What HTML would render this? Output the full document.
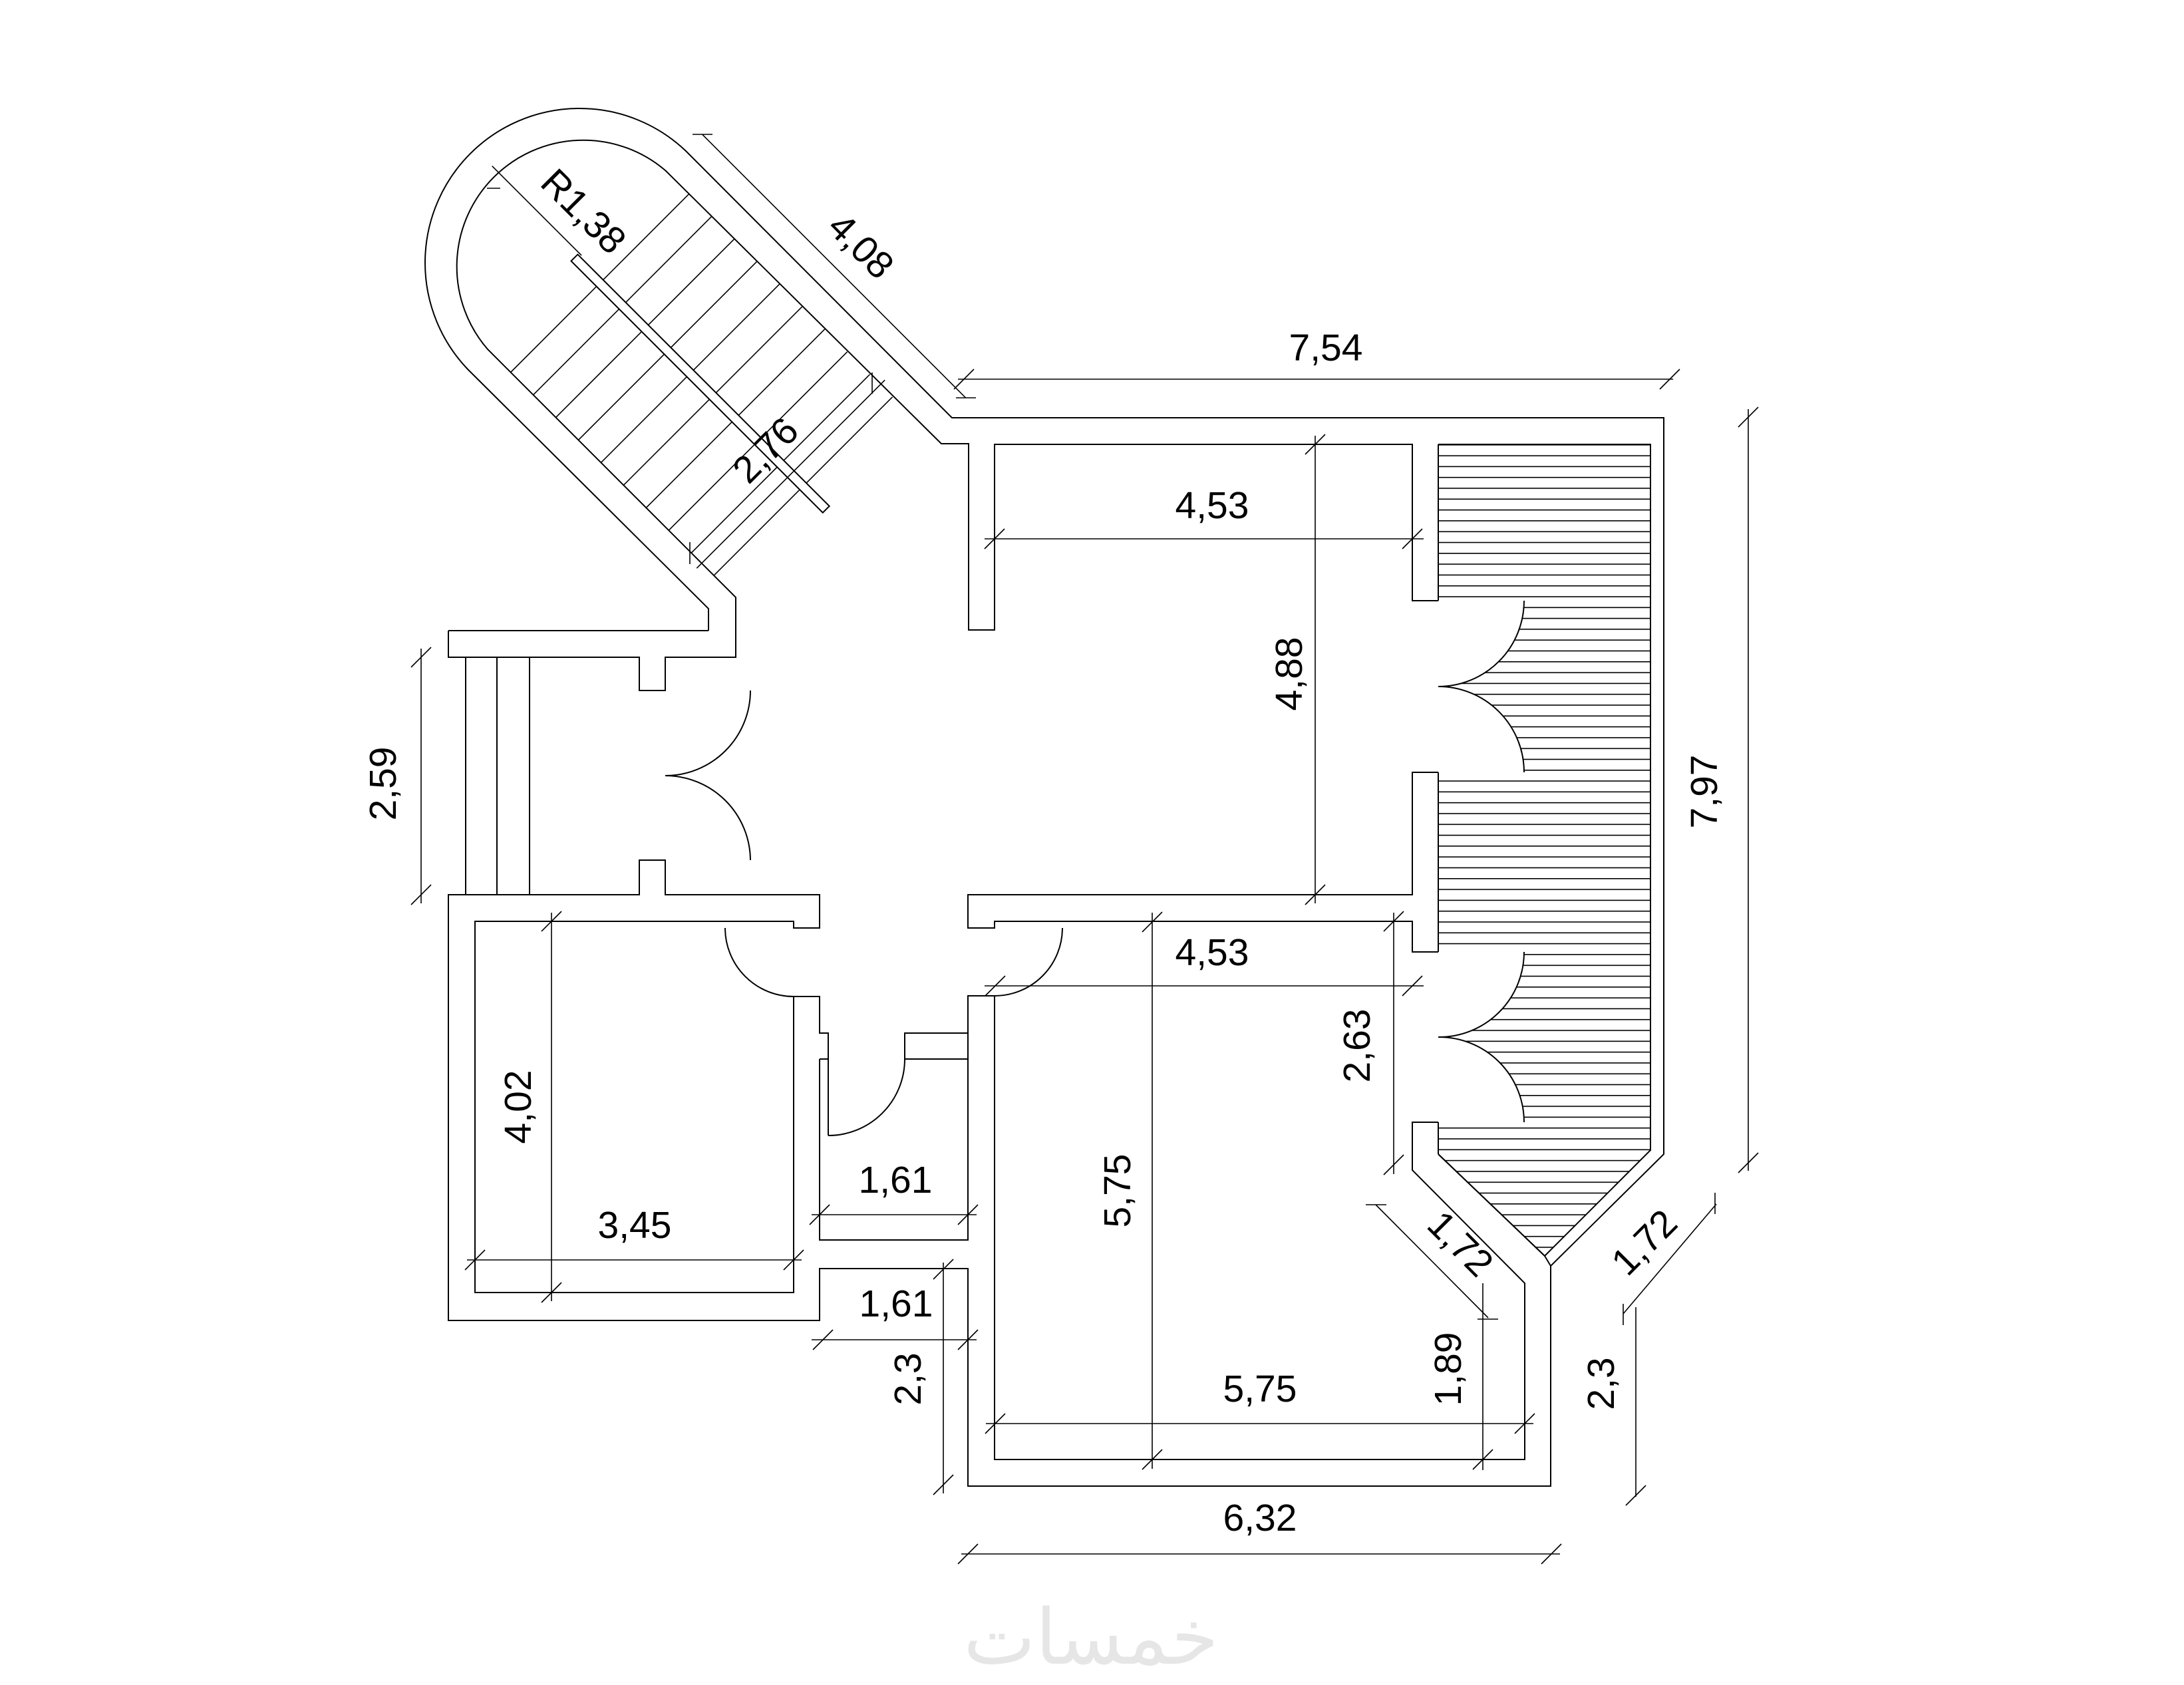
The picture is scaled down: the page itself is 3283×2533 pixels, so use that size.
<!DOCTYPE html>
<html><head><meta charset="utf-8"><style>html,body{margin:0;padding:0;background:#fff}svg{display:block}</style></head>
<body>
<svg xmlns="http://www.w3.org/2000/svg" width="3283" height="2533" viewBox="0 0 3283 2533">
<defs>
<pattern id="h" patternUnits="userSpaceOnUse" x="0" y="668" width="600" height="16.3">
<line x1="0" y1="0.8" x2="600" y2="0.8" stroke="#000" stroke-width="1.6"/>
</pattern>
</defs>
<rect width="3283" height="2533" fill="#fff"/>

<!-- hatch -->
<polygon points="2162,668 2481,668 2481,1729 2322,1888 2162,1735" fill="url(#h)"/>
<path d="M2162,903 L2291,903 A129,129 0 0 1 2162,1032 A129,129 0 0 1 2291,1161 L2162,1161 Z" fill="#fff"/>
<path d="M2162,1431 L2291,1431 A128,128 0 0 1 2162,1559 A128,128 0 0 1 2291,1687 L2162,1687 Z" fill="#fff"/>

<g fill="none" stroke="#000" stroke-width="2">
<!-- hatch outline -->
<path d="M2162,668 L2481,668 L2481,1729 L2322,1888 L2162,1735"/>
<path d="M2162,668 L2162,903 M2162,1161 L2162,1431 M2162,1687 L2162,1735"/>
<!-- door arcs right -->
<path d="M2291,903 A129,129 0 0 1 2162,1032 A129,129 0 0 1 2291,1161"/>
<path d="M2291,1431 A128,128 0 0 1 2162,1559 A128,128 0 0 1 2291,1687"/>

<!-- outer -->
<path d="M674,948 L1065,948"/>
<path d="M1065,948 L1065,915 L703,555 A232,232 0 0 1 1031,227 L1431,628 L2501,628 L2501,1735 L2331,1903 L2331,2234 L1455,2234 L1455,1907 L1232,1907 L1232,1985 L674,1985 L674,1345 L961,1345 L961,1293 L1000,1293 L1000,1345 L1232,1345 L1232,1395 L1193,1395 L1193,1385 L714,1385 L714,1943 L1193,1943 L1193,1498 L1232,1498 L1232,1553 L1245,1553 L1245,1707"/>
<path d="M2322,1888 L2331,1903"/>
<path d="M1232,1592 L1245,1592 M1232,1592 L1232,1864 L1455,1864 L1455,1497 L1495,1497 L1495,2194 L2292,2194 L2292,1929 L2123,1759 L2123,1687 L2162,1687"/>
<path d="M2162,1735 L2322,1888"/>
<path d="M1360,1592 L1360,1553 L1455,1553 M1360,1592 L1455,1592"/>
<path d="M674,948 L674,988 L961,988 L961,1038 L1000,1038 L1000,988 L1106,988 L1106,898 L733,525 A190,190 0 0 1 1001,257 L1415,667 L1456,667 L1456,947 L1495,947 L1495,668 L2123,668 L2123,903 L2162,903"/>
<path d="M2162,1161 L2123,1161 L2123,1345 L1455,1345 L1455,1395 L1495,1395 L1495,1385 L2123,1385 L2123,1431 L2162,1431"/>
<!-- railing -->
<path d="M700,988 L700,1345 M747,988 L747,1345 M796,988 L796,1345"/>
<!-- doors -->
<path d="M1128,1038 A128,128 0 0 1 1000,1166 A128,128 0 0 1 1128,1293"/>
<path d="M1090,1395 A103,103 0 0 0 1193,1498"/>
<path d="M1597,1395 A102,102 0 0 1 1495,1497"/>
<path d="M1360,1592 A115,115 0 0 1 1245,1707"/>

<!-- stairs -->
<g transform="translate(867,391) rotate(45)">
<rect x="-5" y="-7" width="535" height="14"/>
<path d="M49,-190 L49,-7 M49,7 L49,190 M97,-190 L97,-7 M97,7 L97,190 M145,-190 L145,-7 M145,7 L145,190 M193,-190 L193,-7 M193,7 L193,190 M241,-190 L241,-7 M241,7 L241,190 M289,-190 L289,-7 M289,7 L289,190 M337,-190 L337,-7 M337,7 L337,190 M385,-190 L385,-7 M385,7 L385,190 M433,-190 L433,-7 M433,7 L433,190 M481,-190 L481,-7 M481,7 L481,190" stroke-width="1.6"/>
<path d="M455,-200 L455,200" stroke-width="1.6"/>
<path d="M-190,-10 L0,-10" stroke-width="1.6"/>
<path d="M0,-267 L560,-267" stroke-width="1.6"/>
</g>
</g>

<!-- dimension lines -->
<g fill="none" stroke="#000" stroke-width="1.6">
<path d="M1041,202 L1071,202 M1437,598 L1467,598"/>
<path d="M1311,560 L1311,592 M1037,815 L1037,848"/>
<path d="M732,283 L752,283"/>
<path d="M1440,570 L2515,570 M1434,585 L1464,555 M2495,585 L2525,555"/>
<path d="M1480,810 L2140,810 M1480,825 L1510,795 M2108,825 L2138,795"/>
<path d="M1977,655 L1977,1358 M1962,683 L1992,653 M1962,1360 L1992,1330"/>
<path d="M2628,615 L2628,1760 M2613,642 L2643,612 M2613,1763 L2643,1733"/>
<path d="M633,975 L633,1358 M618,1003 L648,973 M618,1360 L648,1330"/>
<path d="M1480,1482 L2140,1482 M1481,1497 L1511,1467 M2108,1497 L2138,1467"/>
<path d="M2095,1372 L2095,1765 M2080,1400 L2110,1370 M2080,1766 L2110,1736"/>
<path d="M1732,1372 L1732,2208 M1717,1401 L1747,1371 M1717,2209 L1747,2179"/>
<path d="M1482,2140 L2305,2140 M1481,2155 L1511,2125 M2277,2155 L2307,2125"/>
<path d="M2229,1929 L2229,2210 M2214,2209 L2244,2179"/>
<path d="M2053,1811 L2084,1811 M2068,1811 L2237,1981 M2221,1983 L2252,1983"/>
<path d="M2440,1975 L2580,1810 M2578,1793 L2578,1825 M2440,1960 L2440,1992"/>
<path d="M2459,1965 L2459,2250 M2444,2263 L2474,2233"/>
<path d="M1445,2336 L2345,2336 M1440,2351 L1470,2321 M2317,2351 L2347,2321"/>
<path d="M1220,1826 L1468,1826 M1217,1841 L1247,1811 M1440,1841 L1470,1811"/>
<path d="M1220,2014 L1468,2014 M1222,2029 L1252,1999 M1440,2029 L1470,1999"/>
<path d="M1418,1898 L1418,2245 M1403,1923 L1433,1893 M1403,2247 L1433,2217"/>
<path d="M829,1372 L829,1956 M814,1400 L844,1370 M814,1958 L844,1928"/>
<path d="M702,1894 L1205,1894 M699,1909 L729,1879 M1178,1909 L1208,1879"/>
</g>

<g font-family="Liberation Sans, Arial, sans-serif" font-size="57" fill="#000" text-anchor="middle" dominant-baseline="central">
<text transform="translate(877,318) rotate(45)">R1,38</text>
<text transform="translate(1294,370) rotate(45)">4,08</text>
<text transform="translate(1151,677) rotate(-45)">2,76</text>
<text x="1993" y="523">7,54</text>
<text x="1822" y="760">4,53</text>
<text transform="translate(1938,1013) rotate(-90)">4,88</text>
<text transform="translate(2562,1190) rotate(-90)">7,97</text>
<text transform="translate(576,1178) rotate(-90)">2,59</text>
<text x="1822" y="1432">4,53</text>
<text transform="translate(2040,1572) rotate(-90)">2,63</text>
<text transform="translate(1680,1790) rotate(-90)">5,75</text>
<text x="1894" y="2088">5,75</text>
<text transform="translate(2177,2058) rotate(-90)">1,89</text>
<text transform="translate(2195,1870) rotate(45)">1,72</text>
<text transform="translate(2472,1868) rotate(-45)">1,72</text>
<text transform="translate(2407,2080) rotate(-90)">2,3</text>
<text x="1894" y="2282">6,32</text>
<text x="1346" y="1774">1,61</text>
<text x="1347" y="1960">1,61</text>
<text transform="translate(1365,2073) rotate(-90)">2,3</text>
<text transform="translate(779,1664) rotate(-90)">4,02</text>
<text x="954" y="1842">3,45</text>
</g>
<text x="1640" y="2462" font-family="DejaVu Sans, sans-serif" font-size="115" fill="#e6e6e6" text-anchor="middle" dominant-baseline="central">خمسات</text>
</svg>
</body></html>
